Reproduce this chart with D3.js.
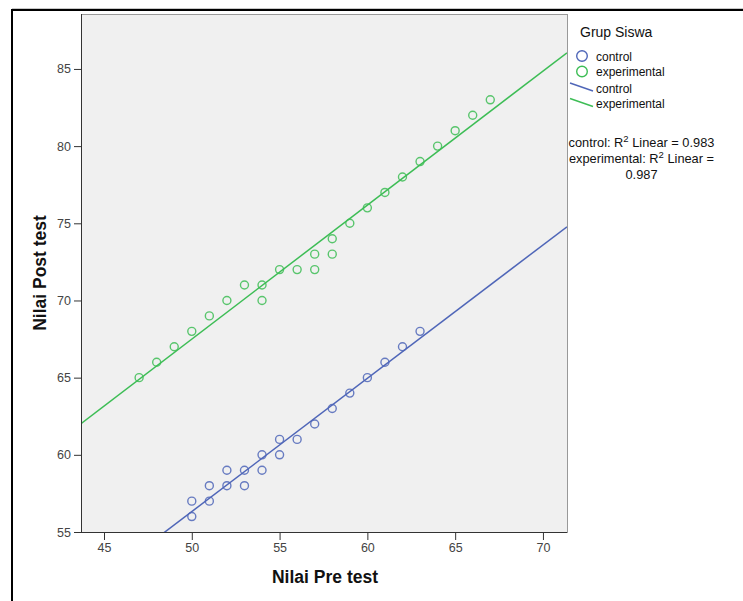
<!DOCTYPE html>
<html>
<head>
<meta charset="utf-8">
<script src="https://cdn.jsdelivr.net/npm/d3@7"></script>
<style>
  body { margin: 0; background: #fff; }
  svg { display: block; font-family: Arial, "Liberation Sans", sans-serif; }
</style>
</head>
<body>
<svg width="743" height="601"></svg>
<script>
// control group: pre test / post test
var controlPre  = [50, 50, 51, 51, 52, 52, 53, 53, 54, 54, 55, 55, 56, 57, 58, 59, 60, 61, 62, 63];
var controlPost = [57, 56, 58, 57, 59, 58, 59, 58, 60, 59, 61, 60, 61, 62, 63, 64, 65, 66, 67, 68];
// experimental group
var expPre  = [47, 48, 49, 50, 51, 52, 53, 54, 54, 55, 56, 57, 57, 58, 58, 59, 60, 61, 62, 63, 64, 65, 66, 67];
var expPost = [65, 66, 67, 68, 69, 70, 71, 71, 70, 72, 72, 73, 72, 74, 73, 75, 76, 77, 78, 79, 80, 81, 82, 83];

var groups = ["control", "experimental"];
var xTicks = [45, 50, 55, 60, 65, 70];
var yTicks = [55, 60, 65, 70, 75, 80, 85];
var r2Lines = ["control: R\u00b2 Linear = 0.983", "experimental: R\u00b2 Linear =", "0.987"];

var colors = { control: "#4f66b8", experimental: "#3dbd55" };

var svg = d3.select("svg");
var plotLeft = 81, plotRight = 567, plotTop = 14, plotBottom = 532;

var x = d3.scaleLinear().domain([43.69, 71.37]).range([plotLeft, plotRight]);
var y = d3.scaleLinear().domain([55, 88.56]).range([plotBottom, plotTop]);

// outer frame
svg.append("line").attr("x1", 12).attr("x2", 743).attr("y1", 8.5).attr("y2", 8.5)
    .attr("stroke", "#c8c8c8").attr("stroke-width", 1);
svg.append("line").attr("x1", 11).attr("x2", 743).attr("y1", 10).attr("y2", 10)
    .attr("stroke", "#000").attr("stroke-width", 2);
svg.append("line").attr("x1", 12).attr("x2", 12).attr("y1", 9).attr("y2", 601)
    .attr("stroke", "#000").attr("stroke-width", 2);

// plot area
svg.append("rect").attr("x", plotLeft + 0.5).attr("y", plotTop + 0.5)
    .attr("width", plotRight - plotLeft).attr("height", plotBottom - plotTop)
    .attr("fill", "#f0f0f0").attr("stroke", "#999").attr("stroke-width", 1);

svg.append("clipPath").attr("id", "clip").append("rect")
    .attr("x", plotLeft).attr("y", plotTop).attr("width", plotRight - plotLeft).attr("height", plotBottom - plotTop);

function fit(xs, ys) {
    var mx = d3.mean(xs), my = d3.mean(ys);
    var sxy = d3.sum(xs, function(v, i) { return (v - mx) * (ys[i] - my); });
    var sxx = d3.sum(xs, function(v) { return (v - mx) * (v - mx); });
    var b = sxy / sxx;
    return { slope: b, intercept: my - b * mx };
}

var series = [
    { name: "control", pre: controlPre, post: controlPost },
    { name: "experimental", pre: expPre, post: expPost }
];

var plot = svg.append("g").attr("clip-path", "url(#clip)");

series.forEach(function(s) {
    var f = fit(s.pre, s.post);
    var d = x.domain();
    plot.append("line")
        .attr("x1", x(d[0])).attr("y1", y(f.intercept + f.slope * d[0]))
        .attr("x2", x(d[1])).attr("y2", y(f.intercept + f.slope * d[1]))
        .attr("stroke", colors[s.name]).attr("stroke-width", 1.5);

    plot.selectAll(".pt-" + s.name).data(s.pre).enter().append("circle")
        .attr("class", "pt-" + s.name)
        .attr("cx", function(v) { return x(v); })
        .attr("cy", function(v, i) { return y(s.post[i]); })
        .attr("r", 4)
        .attr("fill", "none")
        .attr("stroke", colors[s.name])
        .attr("stroke-opacity", 0.85)
        .attr("stroke-width", 1.4);
});

// axes
var gx = svg.append("g").attr("transform", "translate(0," + plotBottom + ")")
    .call(d3.axisBottom(x).tickValues(xTicks).tickSize(8).tickPadding(3));
var gy = svg.append("g").attr("transform", "translate(" + plotLeft + ",0)")
    .call(d3.axisLeft(y).tickValues(yTicks).tickSize(7).tickPadding(3));
[gx, gy].forEach(function(g) {
    g.select(".domain").attr("stroke", "#333");
    g.selectAll(".tick line").attr("stroke", "#333");
    g.selectAll(".tick text").attr("fill", "#444").style("font-size", "12.5px")
        .style("font-family", "Arial, 'Liberation Sans', sans-serif");
});
gy.select(".domain").attr("d", "M0.5," + plotTop + "V" + (plotBottom + 0.5));
gx.select(".domain").attr("d", "M" + plotLeft + ",0.5H" + plotRight);

// axis titles
svg.append("text").attr("x", 325).attr("y", 583).attr("text-anchor", "middle")
    .style("font-size", "17.5px").style("font-weight", "bold").attr("fill", "#111")
    .text("Nilai Pre test");
svg.append("text").attr("transform", "translate(46,273) rotate(-90)").attr("text-anchor", "middle")
    .style("font-size", "17.5px").style("font-weight", "bold").attr("fill", "#111")
    .text("Nilai Post test");

// legend
var lg = svg.append("g");
lg.append("text").attr("x", 580).attr("y", 37).style("font-size", "14px").attr("fill", "#111")
    .text("Grup Siswa");
groups.forEach(function(name, i) {
    var cy = 56 + i * 15.5;
    lg.append("circle").attr("cx", 582).attr("cy", cy).attr("r", 5.3)
        .attr("fill", "none").attr("stroke", colors[name]).attr("stroke-width", 1.4);
    lg.append("text").attr("x", 596).attr("y", cy + 4.5).style("font-size", "12px").attr("fill", "#111")
        .text(name);
});
groups.forEach(function(name, i) {
    var cy = 88 + i * 15.5;
    lg.append("line").attr("x1", 570).attr("y1", cy - 5).attr("x2", 593).attr("y2", cy + 3)
        .attr("stroke", colors[name]).attr("stroke-width", 1.5);
    lg.append("text").attr("x", 596).attr("y", cy + 4.5).style("font-size", "12px").attr("fill", "#111")
        .text(name);
});

r2Lines.forEach(function(t, i) {
    var txt = lg.append("text").attr("x", 641.5).attr("y", 147 + i * 16).attr("text-anchor", "middle")
        .style("font-size", "12.8px").attr("fill", "#111");
    var parts = t.split("\u00b2");
    if (parts.length > 1) {
        txt.append("tspan").text(parts[0]);
        txt.append("tspan").attr("dy", -5).style("font-size", "9.5px").text("2");
        txt.append("tspan").attr("dy", 5).text(parts[1]);
    } else {
        txt.text(t);
    }
});
</script>
</body>
</html>
